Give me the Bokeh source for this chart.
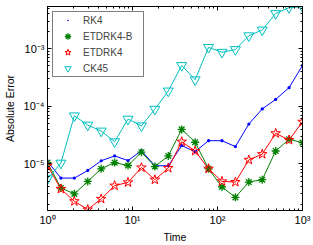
from bokeh.plotting import figure
from bokeh.models import (LogAxis, CustomJSTickFormatter, Legend, LegendItem,
                          Range1d, FixedTicker)
from bokeh.embed import file_html
from bokeh.resources import INLINE

# ---- data ----
time = [1.0, 1.438, 2.069, 2.976, 4.281, 6.158, 8.859, 12.74, 18.33, 26.37,
        37.93, 54.56, 78.48, 112.9, 162.4, 233.6, 336.0, 483.3, 695.2, 1000.0]
rk4 = [1.10e-5, 5.66e-6, 5.66e-6, 7.66e-6, 1.13e-5, 1.37e-5, 1.14e-5, 1.69e-5,
       9.25e-6, 9.25e-6, 2.07e-5, 1.63e-5, 2.52e-5, 2.52e-5, 1.99e-5, 4.90e-5,
       8.97e-5, 1.31e-4, 2.10e-4, 5.09e-4]
etdrk4_b = [1.05e-5, 3.81e-6, 3.01e-6, 4.95e-6, 8.20e-6, 1.05e-5, 9.35e-6,
            1.59e-5, 8.97e-6, 1.37e-5, 3.96e-5, 2.37e-5, 8.20e-6, 3.96e-6,
            2.62e-6, 4.83e-6, 5.30e-6, 1.67e-5, 2.67e-5, 2.33e-5]
etdrk4 = [9.25e-6, 3.66e-6, 2.24e-6, 1.61e-6, 2.46e-6, 4.18e-6, 4.76e-6,
          8.63e-6, 5.30e-6, 8.43e-6, 2.42e-5, 1.67e-5, 8.20e-6, 4.95e-6,
          4.83e-6, 1.17e-5, 1.47e-5, 3.38e-5, 2.59e-5, 5.36e-5]
ck45 = [5.51e-6, 1.03e-5, 6.81e-5, 4.70e-5, 3.71e-5, 2.42e-5, 5.97e-5, 4.57e-5,
        8.87e-5, 1.84e-4, 5.09e-4, 2.88e-4, 1.05e-3, 8.63e-4, 9.62e-4, 1.67e-3,
        2.10e-3, 4.06e-3, 5.15e-3, 5.30e-3]

series_labels = ["RK4", "ETDRK4-B", "ETDRK4", "CK45"]
x_ticks = [1, 10, 100, 1000]
y_ticks = [1e-5, 1e-4, 1e-3]
x_lim = (1, 1000)
y_lim = (10 ** -5.81, 10 ** -2.27)

FONT = "Liberation Sans"

x_minor = [m * 10 ** e for e in range(0, 3) for m in range(2, 10)]
y_minor = [m * 10 ** e for e in range(-6, -2) for m in range(1, 10)]

p = figure(width=313, height=245, x_axis_type="log", y_axis_type="log",
           x_range=Range1d(*x_lim), y_range=Range1d(*y_lim),
           output_backend="svg", toolbar_location=None,
           min_border_left=42, min_border_right=11, min_border_top=6,
           min_border_bottom=34)
p.grid.visible = False
p.outline_line_color = "black"
p.outline_line_width = 1
p.background_fill_color = "white"
p.border_fill_color = "white"

sup_code = """
const sup = {"0":"\u2070","1":"\u00b9","2":"\u00b2","3":"\u00b3","4":"\u2074",
             "5":"\u2075","6":"\u2076","7":"\u2077","8":"\u2078","9":"\u2079","-":"\u207b"};
const e = Math.round(Math.log10(tick));
return "10" + String(e).split("").map(c => sup[c]).join("");
"""
fmt = CustomJSTickFormatter(code=sup_code)
empty_fmt = CustomJSTickFormatter(code="return '';")

def style_axis(ax, labels=True):
    ax.axis_line_color = "black"
    ax.major_tick_in = 4
    ax.major_tick_out = 0
    ax.minor_tick_in = 2
    ax.minor_tick_out = 0
    ax.major_tick_line_color = "black"
    ax.minor_tick_line_color = "black"
    if labels:
        ax.major_label_text_font = FONT
        ax.major_label_text_font_size = "11px"
        ax.major_label_text_color = "black"
        ax.axis_label_text_font = FONT
        ax.axis_label_text_font_size = "10.5px"
        ax.axis_label_text_font_style = "normal"
        ax.axis_label_text_color = "black"
    else:
        ax.major_label_text_font_size = "0px"
        ax.major_label_standoff = 0

p.xaxis.ticker = FixedTicker(ticks=x_ticks, minor_ticks=x_minor)
p.yaxis.ticker = FixedTicker(ticks=y_ticks, minor_ticks=y_minor)
p.xaxis.formatter = fmt
p.yaxis.formatter = fmt
p.xaxis.axis_label = "Time"
p.yaxis.axis_label = "Absolute Error"
p.xaxis.major_label_standoff = 3
p.yaxis.major_label_standoff = 3
p.xaxis.axis_label_standoff = 2
p.yaxis.axis_label_standoff = 5
style_axis(p.xaxis[0])
style_axis(p.yaxis[0])

right = LogAxis(ticker=FixedTicker(ticks=y_ticks, minor_ticks=y_minor), formatter=empty_fmt)
style_axis(right, labels=False)
p.add_layout(right, "right")
top = LogAxis(ticker=FixedTicker(ticks=x_ticks, minor_ticks=x_minor), formatter=empty_fmt)
style_axis(top, labels=False)
p.add_layout(top, "above")

# RK4
p.line(time, rk4, line_color="blue", line_width=1)
r1 = p.scatter(time, rk4, marker="dot", size=13, line_color="blue")
# ETDRK4-B
p.line(time, etdrk4_b, line_color="#008000", line_width=1)
r2 = p.scatter(time, etdrk4_b, marker="asterisk", size=8, line_color="#008000", line_width=1.3)
# ETDRK4
p.line(time, etdrk4, line_color="red", line_width=1)
r3 = p.scatter(time, etdrk4, marker="star", size=10, fill_color=None, line_color="red", line_width=1)
# CK45
p.line(time, ck45, line_color="#00BFBF", line_width=1)
r4 = p.scatter(time, ck45, marker="inverted_triangle", size=10, fill_color=None,
               line_color="#00BFBF", line_width=1)

items = [LegendItem(label=lab, renderers=[r]) for lab, r in zip(series_labels, [r1, r2, r3, r4])]

legend = Legend(items=items, location="top_left", margin=5, padding=0, spacing=-4,
                label_height=16, glyph_height=16, glyph_width=29, label_standoff=1,
                label_width=60,
                label_text_font=FONT, label_text_font_size="10px",
                border_line_color="black", border_line_width=1,
                background_fill_color="white", background_fill_alpha=1)
p.add_layout(legend)

open("out.html", "w", encoding="utf-8").write(file_html(p, INLINE))
